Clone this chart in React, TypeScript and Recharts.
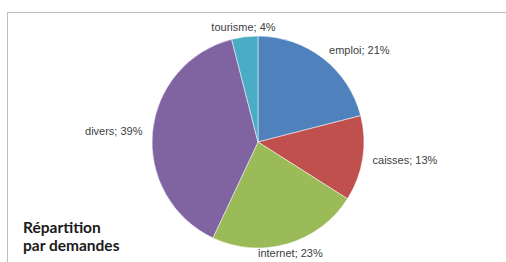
import { PieChart, Pie, Cell } from 'recharts'

// ─── 데이터 ──────────────────────────────────────────────────────
const categories = ['emploi', 'caisses', 'internet', 'divers', 'tourisme']
const shares = [21, 13, 23, 39, 4]
const colors = ['#4F81BD', '#C0504D', '#9BBB59', '#8064A2', '#4BACC6']

const data = categories.map((name, i) => ({ name, value: shares[i] }))

const RADIAN = Math.PI / 180

// 조각 바깥쪽에 "이름; xx%" 라벨
const renderLabel = (props: any) => {
  const { cx, cy, midAngle, outerRadius, name, value } = props
  const r = outerRadius + 10
  const cos = Math.cos(-midAngle * RADIAN)
  const sin = Math.sin(-midAngle * RADIAN)
  const x = cx + r * cos
  const y = cy + r * sin
  const anchor = Math.abs(cos) < 0.3 ? 'middle' : cos > 0 ? 'start' : 'end'
  return (
    <text
      x={x}
      y={y}
      textAnchor={anchor}
      dominantBaseline="central"
      fontSize={11}
      fontFamily="'Liberation Sans', Arial, sans-serif"
      fill="#404040"
    >
      {`${name}; ${value}%`}
    </text>
  )
}

export default function App() {
  return (
    <div style={{ position: 'fixed', left: 0, top: 0, width: 506, height: 262, overflow: 'hidden', background: '#fff' }}>
      {/* 테두리 (오른쪽/아래는 화면 밖) */}
      <div style={{ position: 'absolute', left: 7, top: 12, width: 540, height: 300, border: '1px solid #bdbdbd' }} />
      <div style={{ position: 'absolute', left: 0, top: 0 }}>
        <PieChart width={506} height={262} margin={{ top: 0, right: 0, bottom: 0, left: 0 }}>
          <Pie
            data={data}
            dataKey="value"
            nameKey="name"
            cx={258}
            cy={142}
            outerRadius={106}
            startAngle={90}
            endAngle={-270}
            stroke="#ffffff"
            strokeWidth={0.5}
            label={renderLabel}
            labelLine={false}
            isAnimationActive={false}
          >
            {data.map((d, i) => (
              <Cell key={d.name} fill={colors[i]} />
            ))}
          </Pie>
        </PieChart>
      </div>
      {/* 제목 */}
      <div
        style={{
          position: 'absolute',
          left: 23,
          top: 218,
          fontFamily: 'Lato, sans-serif',
          fontWeight: 700,
          fontSize: 15.5,
          lineHeight: '18px',
          color: '#1a1a1a',
        }}
      >
        Répartition
        <br />
        par demandes
      </div>
    </div>
  )
}
